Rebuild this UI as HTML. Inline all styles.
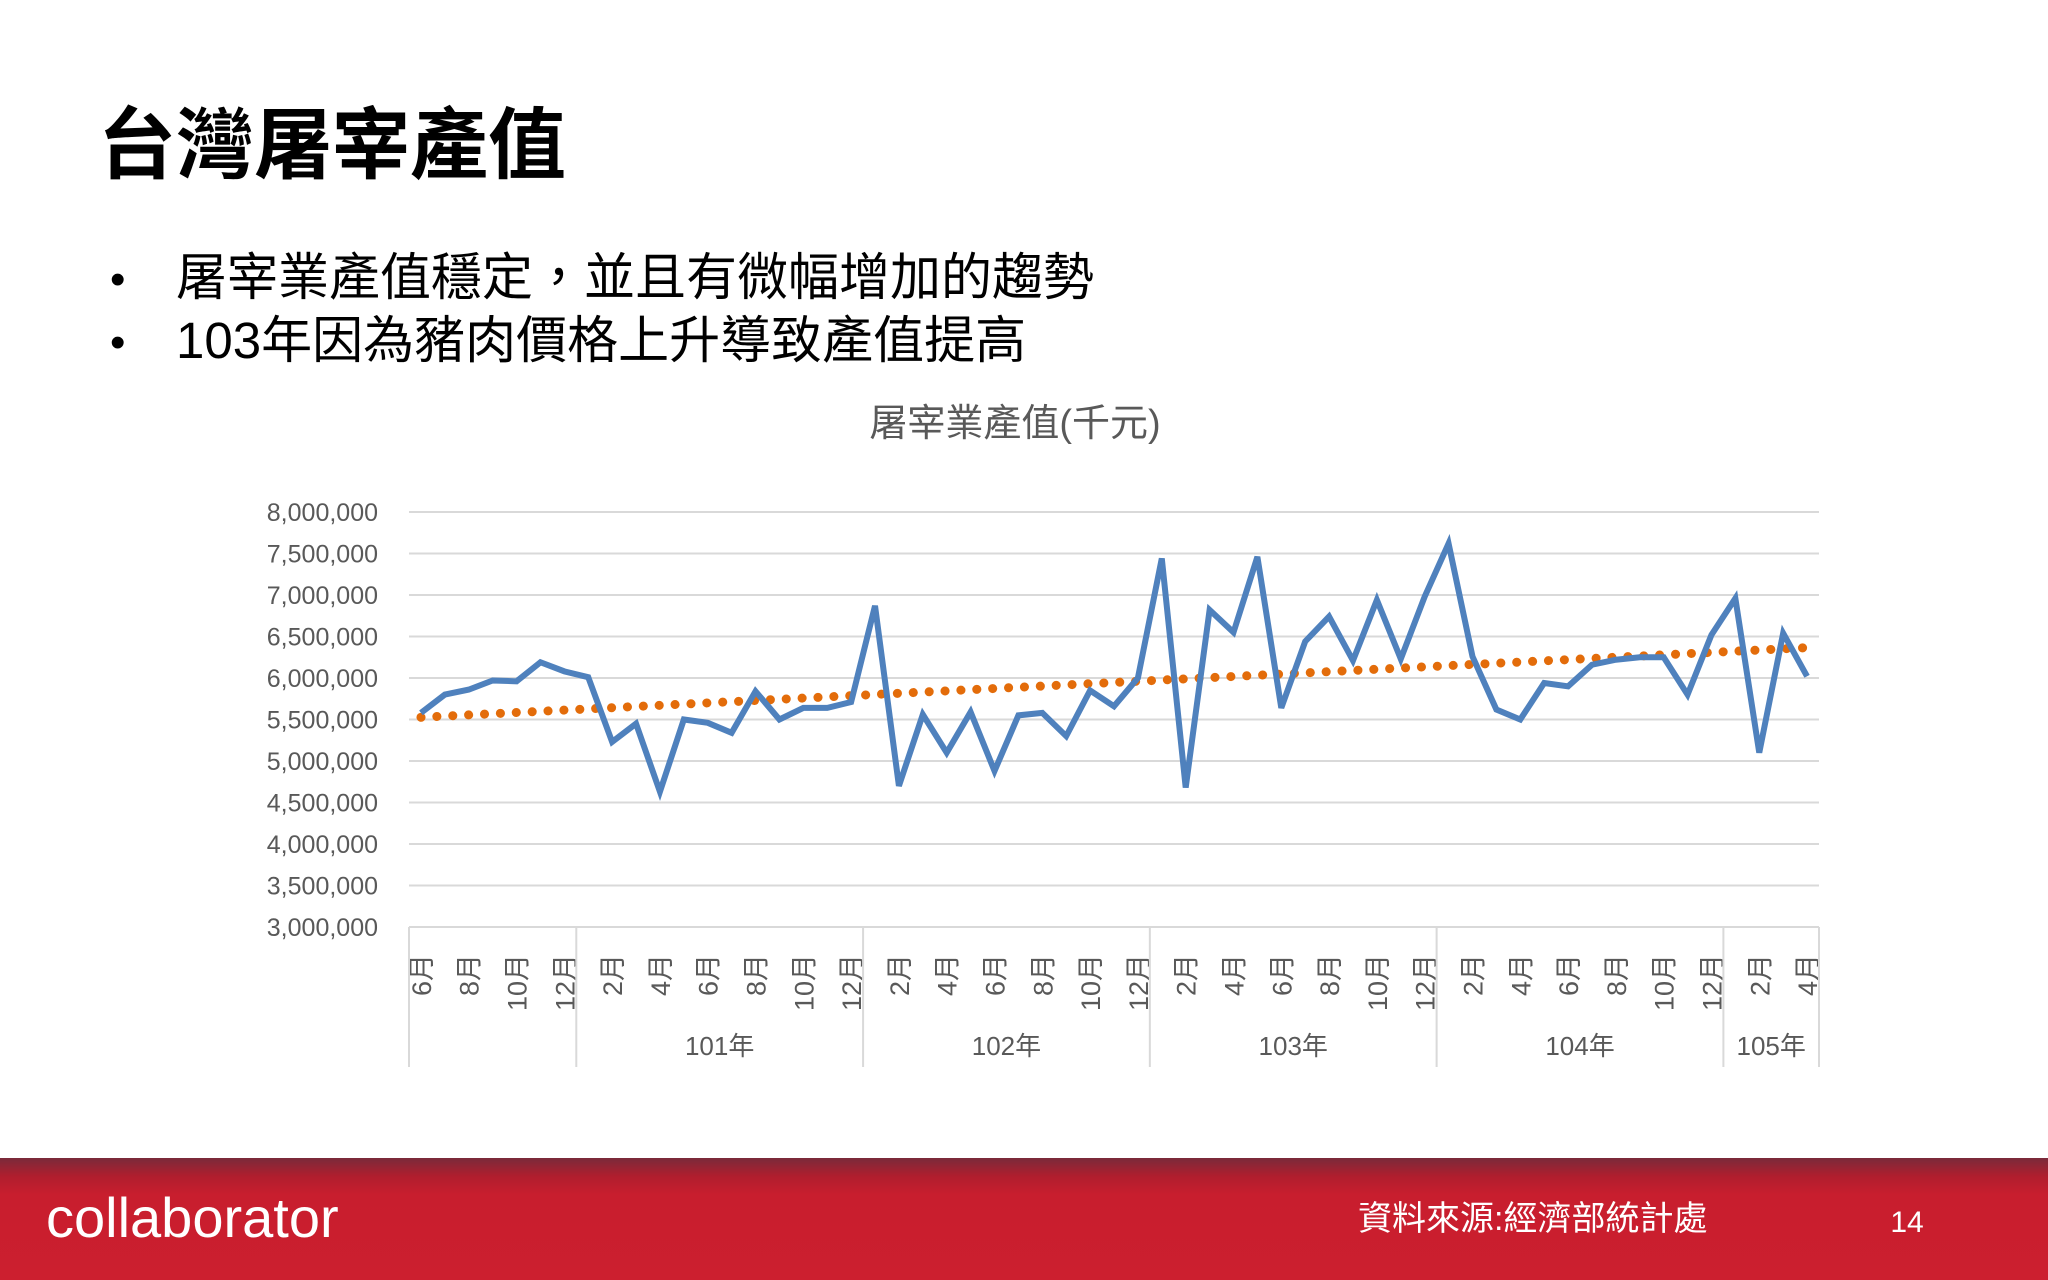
<!DOCTYPE html>
<html><head><meta charset="utf-8"><title>台灣屠宰產值</title>
<style>
html,body{margin:0;padding:0;background:#fff;}
svg{display:block;}
</style></head>
<body>
<svg id="slide" width="2048" height="1280" viewBox="0 0 2048 1280" xmlns="http://www.w3.org/2000/svg" font-family="'Liberation Sans','Noto Sans CJK TC',sans-serif">
  <defs>
    <linearGradient id="band" x1="0" y1="0" x2="0" y2="1">
      <stop offset="0" stop-color="#7a2a3a"/>
      <stop offset="0.15" stop-color="#b01e2e"/>
      <stop offset="0.3" stop-color="#c81e2e"/>
      <stop offset="1" stop-color="#cc1f2f"/>
    </linearGradient>
  </defs>
  <text x="98" y="172" font-size="78" font-weight="bold" fill="#000">台灣屠宰產值</text>
  <text x="110" y="294" font-size="44" fill="#000">•</text>
  <text x="176" y="295" font-size="51" fill="#000">屠宰業產值穩定，並且有微幅增加的趨勢</text>
  <text x="110" y="357" font-size="44" fill="#000">•</text>
  <text x="176" y="358" font-size="51" fill="#000">103年因為豬肉價格上升導致產值提高</text>
  <text x="1015" y="436" font-size="38" fill="#595959" text-anchor="middle">屠宰業產值(千元)</text>
  <g id="grid"></g>
  <g id="yticks"></g>
  <g id="xaxis"></g>
  <g id="series"></g>
  <rect x="0" y="1158" width="2048" height="122" fill="url(#band)"/>
  <text x="46" y="1237" font-size="56" fill="#fff">collaborator</text>
  <text x="1358" y="1230" font-size="34" fill="#fff">資料來源:經濟部統計處</text>
  <text x="1907" y="1232" font-size="30" fill="#fff" text-anchor="middle">14</text>
</svg>
<script>
const values = [5.58,5.80,5.86,5.97,5.96,6.19,6.08,6.01,5.23,5.45,4.63,5.50,5.46,5.34,5.84,5.50,5.64,5.64,5.71,6.87,4.70,5.56,5.10,5.59,4.88,5.55,5.58,5.30,5.85,5.66,6.00,7.44,4.68,6.82,6.55,7.46,5.64,6.44,6.74,6.21,6.94,6.23,6.98,7.62,6.26,5.62,5.50,5.94,5.90,6.16,6.22,6.25,6.25,5.80,6.52,6.96,5.10,6.54,6.02];
const months = [6,7,8,9,10,11,12,1,2,3,4,5,6,7,8,9,10,11,12,1,2,3,4,5,6,7,8,9,10,11,12,1,2,3,4,5,6,7,8,9,10,11,12,1,2,3,4,5,6,7,8,9,10,11,12,1,2,3,4];
const years = ["","101年","102年","103年","104年","105年"];
const yearSizes = [7,12,12,12,12,4];
const yTicks = [3,3.5,4,4.5,5,5.5,6,6.5,7,7.5,8];
const yTickLabels = ["3,000,000","3,500,000","4,000,000","4,500,000","5,000,000","5,500,000","6,000,000","6,500,000","7,000,000","7,500,000","8,000,000"];

const NS="http://www.w3.org/2000/svg";
const X0=409,X1=1819,Y0=927,Y1=512,YMIN=3,YMAX=8;
const n=values.length, bw=(X1-X0)/n;
const xs=i=>X0+bw*(i+0.5);
const ys=v=>Y0-(v-YMIN)/(YMAX-YMIN)*(Y0-Y1);
function mk(tag,attrs,parent){const e=document.createElementNS(NS,tag);for(const k in attrs)e.setAttribute(k,attrs[k]);parent.appendChild(e);return e;}
const grid=document.getElementById('grid'),yt=document.getElementById('yticks'),xa=document.getElementById('xaxis'),se=document.getElementById('series');
yTicks.forEach((t,i)=>{
  const l=mk('line',{x1:X0,x2:X1,y1:ys(t),y2:ys(t),stroke:'#d9d9d9','stroke-width':2},grid);
  
  
  const tx=mk('text',{x:378,y:ys(t)+9,'font-size':25,fill:'#595959','text-anchor':'end'},yt);
  tx.textContent=yTickLabels[i];
  
  
});
months.forEach((m,i)=>{
  if(i%2!==0)return;
  const x=xs(i)+10, y=954;
  const t=mk('text',{x:x,y:y,'font-size':27,fill:'#595959','text-anchor':'end',transform:`rotate(-90 ${x} ${y})`},xa);
  t.textContent=m+'月';
  
  
});
let start=0;
const bounds=[0];
yearSizes.forEach((s,k)=>{
  const a=start, b=start+s;
  if(years[k]){
    const t=mk('text',{x:X0+bw*(a+b)/2,y:1055,'font-size':26,fill:'#595959','text-anchor':'middle'},xa);
    t.textContent=years[k];
    
    
  }
  start=b;bounds.push(b);
});
bounds.forEach(b=>{
  const l=mk('line',{x1:X0+bw*b,x2:X0+bw*b,y1:Y0,y2:1067,stroke:'#d9d9d9','stroke-width':2},xa);
  
  
});
let sx=0,sy=0,sxy=0,sxx=0;
values.forEach((v,i)=>{sx+=i;sy+=v;sxy+=i*v;sxx+=i*i;});
const slope=(n*sxy-sx*sy)/(n*sxx-sx*sx), icpt=(sy-slope*sx)/n;
const tr=mk('line',{x1:xs(0),y1:ys(icpt),x2:xs(n-1),y2:ys(icpt+slope*(n-1)),stroke:'#e36c0a','stroke-width':9,'stroke-linecap':'round','stroke-dasharray':'0.1 15.8'},se);


const pl=mk('polyline',{points:values.map((v,i)=>xs(i)+','+ys(v)).join(' '),fill:'none',stroke:'#4f81bd','stroke-width':6,'stroke-linejoin':'miter'},se);


</script>
</body></html>
